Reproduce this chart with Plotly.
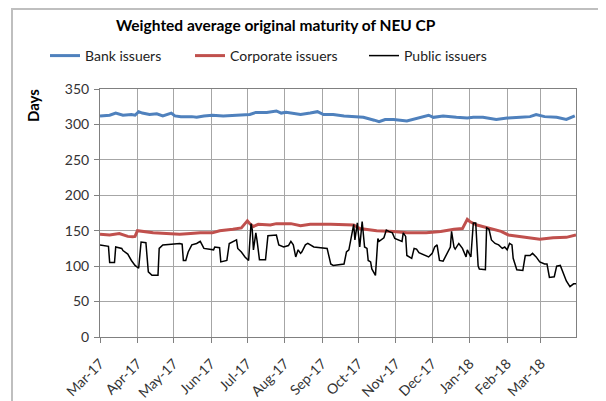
import plotly.graph_objects as go

# ---- data ----
bank_dates = ["2017-03-01","2017-03-09","2017-03-14","2017-03-20","2017-03-27","2017-03-30","2017-04-02","2017-04-05",
              "2017-04-11","2017-04-17","2017-04-22","2017-04-29","2017-05-02","2017-05-07","2017-05-16","2017-05-20",
              "2017-05-26","2017-06-02","2017-06-11","2017-06-19","2017-06-24","2017-07-03","2017-07-08","2017-07-17",
              "2017-07-25","2017-07-29","2017-08-02","2017-08-08","2017-08-14","2017-08-22","2017-08-28","2017-09-02",
              "2017-09-10","2017-09-19","2017-09-27","2017-10-05","2017-10-14","2017-10-18","2017-10-23","2017-10-30",
              "2017-11-10","2017-11-18","2017-11-28","2017-12-02","2017-12-10","2017-12-21","2017-12-30","2018-01-04",
              "2018-01-12","2018-01-23","2018-02-01","2018-02-12","2018-02-20","2018-02-25","2018-03-04","2018-03-14",
              "2018-03-22","2018-03-29"]
bank_values = [312,313,316,313,314,313,318,316,
               314,315,312,316,312,311,311,310,
               312,313,312,313,313,314,317,317,
               319,316,317,316,314,316,318,314,
               314,312,311,310,306,304,307,307,
               305,309,313,310,312,310,309,310,
               310,307,309,310,311,314,311,310,
               307,312]

corp_dates = ["2017-03-01","2017-03-09","2017-03-17","2017-03-24","2017-03-28","2017-03-30","2017-04-01","2017-04-05",
              "2017-04-14","2017-04-25","2017-05-06","2017-05-15","2017-05-23","2017-06-02","2017-06-08","2017-06-19",
              "2017-06-26","2017-06-29","2017-07-01","2017-07-03","2017-07-06","2017-07-10","2017-07-20","2017-07-25",
              "2017-08-06","2017-08-14","2017-08-22","2017-09-08","2017-09-19","2017-09-27","2017-10-02","2017-10-16",
              "2017-10-30","2017-11-10","2017-11-26","2017-12-08","2017-12-19","2017-12-26","2017-12-30","2018-01-01",
              "2018-01-07","2018-01-18","2018-01-27","2018-02-02","2018-02-12","2018-02-22","2018-02-28","2018-03-11",
              "2018-03-22","2018-03-30"]
corp_values = [145,144,146,142,141.5,142,150,149,
               147,146,145,146,147,147,150,152,
               154,160,164,160,156,159,158,160,
               160,157,159,159,159,158,153,150,
               149,147,147,149,152,153,166,163,
               158,153,149,144,141.5,139,138,140,
               140.6,144]

pub_dates = ["2017-03-01","2017-03-08","2017-03-09","2017-03-13","2017-03-14","2017-03-19","2017-03-20","2017-03-22",
             "2017-03-24","2017-03-27","2017-03-30","2017-04-02","2017-04-04","2017-04-08","2017-04-10","2017-04-13",
             "2017-04-18","2017-04-19","2017-04-22","2017-05-06","2017-05-08","2017-05-09","2017-05-11","2017-05-13",
             "2017-05-16","2017-05-20","2017-05-23","2017-05-26","2017-06-03","2017-06-04","2017-06-08","2017-06-09",
             "2017-06-14","2017-06-16","2017-06-19","2017-06-22","2017-06-23","2017-06-26","2017-06-29","2017-07-02",
             "2017-07-04","2017-07-05","2017-07-06","2017-07-08","2017-07-09","2017-07-11","2017-07-16","2017-07-18",
             "2017-07-25","2017-07-27","2017-07-31","2017-08-04","2017-08-06","2017-08-08","2017-08-10","2017-08-12",
             "2017-08-14","2017-08-15","2017-08-18","2017-08-20","2017-08-25","2017-09-05","2017-09-08","2017-09-10",
             "2017-09-19","2017-09-21","2017-09-23","2017-09-24","2017-09-26","2017-09-27","2017-09-28","2017-09-30",
             "2017-10-02","2017-10-03","2017-10-04","2017-10-06","2017-10-08","2017-10-09","2017-10-11","2017-10-12",
             "2017-10-14","2017-10-15","2017-10-17","2017-10-18","2017-10-22","2017-10-24","2017-10-26","2017-10-29",
             "2017-10-31","2017-11-06","2017-11-07","2017-11-09","2017-11-10","2017-11-14","2017-11-16","2017-11-18",
             "2017-11-20","2017-11-25","2017-11-28","2017-12-01","2017-12-03","2017-12-05","2017-12-07","2017-12-10",
             "2017-12-12","2017-12-15","2017-12-16","2017-12-17","2017-12-19","2017-12-20","2017-12-23","2017-12-26",
             "2017-12-29","2017-12-30","2018-01-01","2018-01-02","2018-01-04","2018-01-06","2018-01-08","2018-01-09",
             "2018-01-14","2018-01-15","2018-01-17","2018-01-19","2018-01-22","2018-01-25","2018-01-28","2018-01-30",
             "2018-02-01","2018-02-03","2018-02-05","2018-02-06","2018-02-09","2018-02-14","2018-02-16","2018-02-20",
             "2018-02-22","2018-02-25","2018-02-28","2018-03-04","2018-03-06","2018-03-08","2018-03-12","2018-03-14",
             "2018-03-17","2018-03-19","2018-03-22","2018-03-25","2018-03-28","2018-03-30"]
pub_values = [130,128,105,105,127,125,122,120,
              117,108,101,97,134,133,92,87,
              87,125,130,132,131,108,108,120,
              130,132,135,125,123,127,126,106,
              108,132,134,137,125,120,113,108,
              160,152,123,147,136,109,109,143,
              144,130,127,129,135,130,113,123,
              118,120,130,132,127,125,103,101,
              103,120,123,132,151,159,137,161,
              127,151,163,127,125,108,106,96,
              91,87,139,135,140,151,149,147,
              139,135,147,142,115,111,125,124,
              119,115,113,118,127,130,108,107,
              113,123,127,149,127,124,132,125,
              113,123,115,113,161,161,100,96,
              95,154,152,137,132,130,125,127,
              123,132,130,111,95,94,115,115,
              118,113,106,103,103,84,85,100,
              101,91,79,71,75,75]

series_names = ["Bank issuers", "Corporate issuers", "Public issuers"]
y_ticks = [0, 50, 100, 150, 200, 250, 300, 350]

FONT = "Lato"
GRID = "#a6a6a6"

fig = go.Figure()
fig.add_trace(go.Scatter(x=bank_dates, y=bank_values, mode="lines", name=series_names[0],
                         line=dict(color="#4F81BD", width=3), legend="legend"))
fig.add_trace(go.Scatter(x=corp_dates, y=corp_values, mode="lines", name=series_names[1],
                         line=dict(color="#C0504D", width=3), legend="legend2"))
fig.add_trace(go.Scatter(x=pub_dates, y=pub_values, mode="lines", name=series_names[2],
                         line=dict(color="#000000", width=1.5), legend="legend3"))

leg_common = dict(orientation="h", yanchor="middle", y=(337 - 56) / 248, xanchor="left",
                  font=dict(family=FONT, size=14, color="#222"), bgcolor="rgba(0,0,0,0)",
                  itemwidth=30, tracegroupgap=0)

fig.update_layout(
    width=606, height=401,
    margin=dict(l=92, r=38, t=81, b=72, autoexpand=False),
    paper_bgcolor="white", plot_bgcolor="white",
    font=dict(family=FONT, size=13, color="#333"),
    legend=dict(leg_common, x=(45 - 100) / 476),
    legend2=dict(leg_common, x=(190 - 100) / 476),
    legend3=dict(leg_common, x=(364 - 100) / 476),
    xaxis=dict(type="date", range=["2017-03-01", "2018-03-30"], dtick="M1", tick0="2017-03-01",
               tickformat="%b-%y", tickangle=-45, showgrid=True, gridcolor=GRID, gridwidth=1,
               showline=True, linecolor="#808080", mirror=True, ticks="outside", ticklen=5,
               ticklabelstandoff=7,
               tickcolor="#808080", tickfont=dict(family=FONT, size=14, color="#333"), automargin=False),
    yaxis=dict(range=[0, 350], tickvals=y_ticks, showgrid=True, gridcolor=GRID, gridwidth=1,
               showline=True, linecolor="#808080", mirror=True, ticks="outside", ticklen=5,
               ticklabelstandoff=2, automargin=False,
               tickcolor="#808080", zeroline=False, tickfont=dict(family=FONT, size=14, color="#333")),
    showlegend=True,
)

# chart border (Excel chart area frame)
fig.add_shape(type="rect", xref="paper", yref="paper",
              x0=(12 - 100) / 476, x1=(603 - 100) / 476, y0=(337 - 420) / 248, y1=(337 - 9) / 248,
              line=dict(color="#bfbfbf", width=2), fillcolor="rgba(0,0,0,0)", layer="below")

fig.add_annotation(text="<b>Weighted average original maturity of NEU CP</b>", xref="paper", yref="paper",
                   x=(276 - 100) / 476, y=(337 - 25) / 248, showarrow=False, xanchor="center", yanchor="middle",
                   font=dict(family=FONT, size=15.5, color="#000"))
fig.add_annotation(text="<b>Days</b>", xref="paper", yref="paper", x=(33 - 100) / 476, y=(337 - 106) / 248,
                   showarrow=False, textangle=-90, xanchor="center", yanchor="middle",
                   font=dict(family=FONT, size=15, color="#000"))

fig.write_html("out.html")
